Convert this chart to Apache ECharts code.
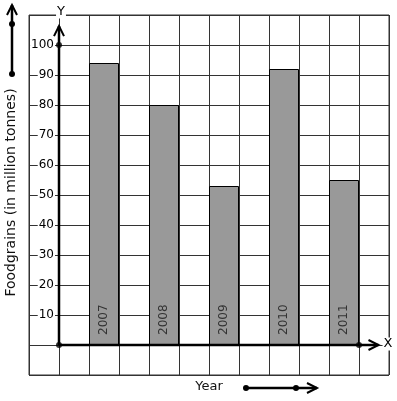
<!DOCTYPE html>
<html>
<head>
<meta charset="utf-8">
<script src="https://cdn.jsdelivr.net/npm/echarts@6/dist/echarts.min.js"></script>
<style>
html, body { margin: 0; padding: 0; background: #fff; }
#main { width: 397px; height: 401px; }
</style>
</head>
<body>
<div id="main"></div>
<script>
// data
var years = ['2007', '2008', '2009', '2010', '2011'];
var foodgrains = [94, 80, 53, 92, 55];
var yTickLabels = [10, 20, 30, 40, 50, 60, 70, 80, 90, 100];

// bars sit in every second cell of the squared grid
var barData = [];
for (var i = 0; i < years.length; i++) {
    barData.push({ value: [2 * i + 1.5, foodgrains[i]], name: years[i] });
}

// axis arrows (from origin) and the marked points on them
var axisArrows = [[0, 0, 10.65, 0], [0, 0, 0, 106.3]];
var axisDots = [[0, 0], [0, 100], [10, 0]];

var font = 'DejaVu Sans';
var chart = echarts.init(document.getElementById('main'));

function chevron(x, y, dx, dy, len, half) {
    // open arrow head with tip at (x,y) pointing along (dx,dy)
    var nx = -dy, ny = dx;
    return [
        [x - dx * len + nx * half, y - dy * len + ny * half],
        [x, y],
        [x - dx * len - nx * half, y - dy * len - ny * half]
    ];
}

function renderArrow(params, api) {
    var p0 = api.coord([api.value(0), api.value(1)]);
    var p1 = api.coord([api.value(2), api.value(3)]);
    var L = Math.sqrt((p1[0] - p0[0]) * (p1[0] - p0[0]) + (p1[1] - p0[1]) * (p1[1] - p0[1]));
    var dx = (p1[0] - p0[0]) / L, dy = (p1[1] - p0[1]) / L;
    return {
        type: 'group',
        children: [
            { type: 'line', shape: { x1: p0[0], y1: p0[1], x2: p1[0], y2: p1[1] },
              style: { stroke: '#000', lineWidth: 2.5 } },
            { type: 'polyline', shape: { points: chevron(p1[0], p1[1], dx, dy, 10, 5) },
              style: { stroke: '#000', lineWidth: 2, fill: null } }
        ]
    };
}

var option = {
    animation: false,
    grid: {
        left: 29, top: 15, width: 360, height: 360,
        outerBoundsMode: 'none', containLabel: false,
        show: true, borderColor: '#333', borderWidth: 1
    },
    xAxis: {
        type: 'value', min: -1, max: 11, interval: 1,
        name: 'Year', nameLocation: 'middle', nameGap: 5,
        nameTextStyle: { fontFamily: font, fontSize: 13, color: '#111', verticalAlign: 'top' },
        axisLine: { show: false }, axisTick: { show: false }, axisLabel: { show: false },
        splitLine: { show: true, lineStyle: { color: '#333', width: 1 } }
    },
    yAxis: {
        type: 'value', min: -10, max: 110, interval: 10,
        name: 'Foodgrains (in million tonnes)', nameLocation: 'middle', nameGap: 11, nameRotate: 90,
        nameTextStyle: { fontFamily: font, fontSize: 14, color: '#111', padding: [0, 0, 0, 5] },
        axisLine: { show: false }, axisTick: { show: false },
        axisLabel: {
            margin: -26, fontFamily: font, fontSize: 12, color: '#000',
            backgroundColor: '#fff', padding: [0, 1],
            formatter: function (v) { return yTickLabels.indexOf(v) >= 0 ? String(v) : ''; }
        },
        splitLine: { show: true, lineStyle: { color: '#333', width: 1 } }
    },
    series: [
        {
            type: 'bar', data: barData, barWidth: 30, z: 2,
            itemStyle: { color: '#999999', borderColor: '#000', borderWidth: 1 },
            label: {
                show: true, position: 'insideBottom', distance: 10, rotate: 90,
                align: 'left', verticalAlign: 'middle',
                fontFamily: font, fontSize: 12, color: '#333',
                formatter: function (p) { return p.name; }
            }
        },
        {
            type: 'custom', data: axisArrows, renderItem: renderArrow, z: 5, silent: true
        },
        {
            type: 'scatter', data: axisDots, symbolSize: 6, z: 6, silent: true,
            itemStyle: { color: '#000' }
        }
    ],
    graphic: [
        // axis letters
        { type: 'text', x: 61, y: 12, z: 10,
          style: { text: 'Y', font: '13px "DejaVu Sans"', fill: '#000', align: 'center', verticalAlign: 'middle',
                   backgroundColor: '#fff', padding: [0, 1] } },
        { type: 'text', x: 388, y: 344, z: 10,
          style: { text: 'X', font: '13px "DejaVu Sans"', fill: '#000', align: 'center', verticalAlign: 'middle',
                   backgroundColor: '#fff', padding: [0, 1] } },
        // direction arrow beside the vertical axis name
        { type: 'line', shape: { x1: 12, y1: 74, x2: 12, y2: 5 }, style: { stroke: '#000', lineWidth: 2.5 } },
        { type: 'polyline', shape: { points: chevron(12, 5, 0, -1, 10, 5) }, style: { stroke: '#000', lineWidth: 2, fill: null } },
        { type: 'circle', shape: { cx: 12, cy: 24, r: 3 }, style: { fill: '#000' } },
        { type: 'circle', shape: { cx: 12, cy: 74, r: 3 }, style: { fill: '#000' } },
        // direction arrow beside the horizontal axis name
        { type: 'line', shape: { x1: 246, y1: 388, x2: 317, y2: 388 }, style: { stroke: '#000', lineWidth: 2.5 } },
        { type: 'polyline', shape: { points: chevron(317, 388, 1, 0, 10, 5) }, style: { stroke: '#000', lineWidth: 2, fill: null } },
        { type: 'circle', shape: { cx: 246, cy: 388, r: 3 }, style: { fill: '#000' } },
        { type: 'circle', shape: { cx: 296, cy: 388, r: 3 }, style: { fill: '#000' } }
    ]
};

chart.setOption(option);
</script>
</body>
</html>
